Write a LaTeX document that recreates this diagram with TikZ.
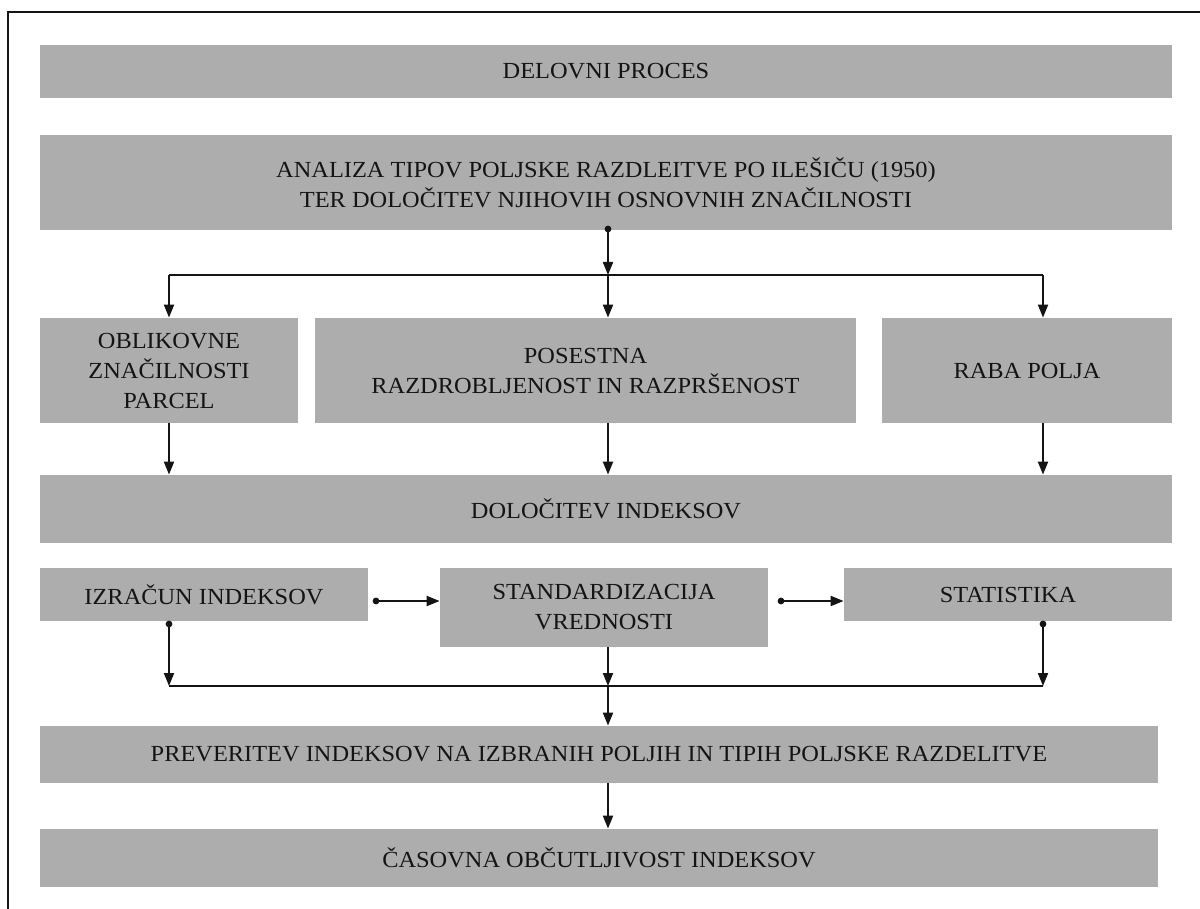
\documentclass[tikz,border=0pt]{standalone}
\usepackage{fontspec}
\setmainfont{Liberation Serif}[FakeStretch=1.06]
\usetikzlibrary{arrows.meta}
\definecolor{boxgray}{RGB}{173,173,173}
\definecolor{ink}{RGB}{20,20,20}
\begin{document}
\begin{tikzpicture}[x=0.5pt,y=-0.5pt,
  box/.style={fill=boxgray, draw=none, align=center, inner sep=0pt, text=ink,
    font=\fontsize{11.5}{15}\selectfont},
  conn/.style={line width=1pt, draw=ink, -{Triangle[width=5pt,length=6.5pt]}},
  plainline/.style={line width=1pt, draw=ink},
  dotmark/.style={fill=ink}]
\useasboundingbox (0,0) rectangle (1200,909);
\draw[line width=1pt, ink] (1200,12) -- (8,12) -- (8,909);

% boxes
\node[box, minimum width=566pt, minimum height=26.5pt] (del) at (606,71.5) {DELOVNI PROCES};
\node[box, minimum width=566pt, minimum height=47.5pt] (ana) at (606,182.5)
  {ANALIZA TIPOV POLJSKE RAZDLEITVE PO ILEŠIČU (1950)\\TER DOLOČITEV NJIHOVIH OSNOVNIH ZNAČILNOSTI};
\node[box, minimum width=129pt, minimum height=52.5pt] (obl) at (169,370.5)
  {OBLIKOVNE\\ZNAČILNOSTI\\PARCEL};
\node[box, minimum width=270.5pt, minimum height=52.5pt] (pos) at (585.5,370.5)
  {POSESTNA\\RAZDROBLJENOST IN RAZPRŠENOST};
\node[box, minimum width=145pt, minimum height=52.5pt] (rab) at (1027,370.5) {RABA POLJA};
\node[box, minimum width=566pt, minimum height=34pt] (dol) at (606,509) {DOLOČITEV INDEKSOV};
\node[box, minimum width=164pt, minimum height=26.5pt] (izr) at (204,594.5) {IZRAČUN INDEKSOV};
\node[box, minimum width=164pt, minimum height=39.5pt] (sta) at (604,607.5) {STANDARDIZACIJA\\VREDNOSTI};
\node[box, minimum width=164pt, minimum height=26.5pt] (stt) at (1008,594.5) {STATISTIKA};
\node[box, minimum width=559pt, minimum height=28.5pt] (pre) at (599,754.5)
  {PREVERITEV INDEKSOV NA IZBRANIH POLJIH IN TIPIH POLJSKE RAZDELITVE};
\node[box, minimum width=559pt, minimum height=29pt] (cas) at (599,858) {ČASOVNA OBČUTLJIVOST INDEKSOV};

% junction coordinates
\coordinate (ad) at (608,229);
\coordinate (jl) at (169,275);
\coordinate (jm) at (608,275);
\coordinate (jr) at (1043,275);
\coordinate (d1) at (376,601);
\coordinate (d2) at (781,601);
\coordinate (d3) at (169,624);
\coordinate (d4) at (1043,624);
\coordinate (kl) at (169,686);
\coordinate (km) at (608,686);
\coordinate (kr) at (1043,686);

% upper connectors
\fill[dotmark] (ad) circle (1.7pt);
\draw[conn] (ad) -- (jm);
\draw[plainline] (jl) -- (jr);
\draw[conn] (jl) -- (jl |- obl.north);
\draw[conn] (jm) -- (jm |- pos.north);
\draw[conn] (jr) -- (jr |- rab.north);
\draw[conn] (obl.south -| jl) -- (jl |- dol.north);
\draw[conn] (pos.south -| jm) -- (jm |- dol.north);
\draw[conn] (rab.south -| jr) -- (jr |- dol.north);

% lower connectors
\fill[dotmark] (d1) circle (1.7pt);
\draw[conn] (d1) -- (d1 -| sta.west);
\fill[dotmark] (d2) circle (1.7pt);
\draw[conn] (d2) -- (d2 -| stt.west);
\fill[dotmark] (d3) circle (1.7pt);
\draw[conn] (d3) -- (kl);
\fill[dotmark] (d4) circle (1.7pt);
\draw[conn] (d4) -- (kr);
\draw[plainline] (kl) -- (kr);
\draw[conn] (sta.south -| km) -- (km);
\draw[conn] (km) -- (km |- pre.north);
\draw[conn] (pre.south -| km) -- (km |- cas.north);
\end{tikzpicture}
\end{document}
